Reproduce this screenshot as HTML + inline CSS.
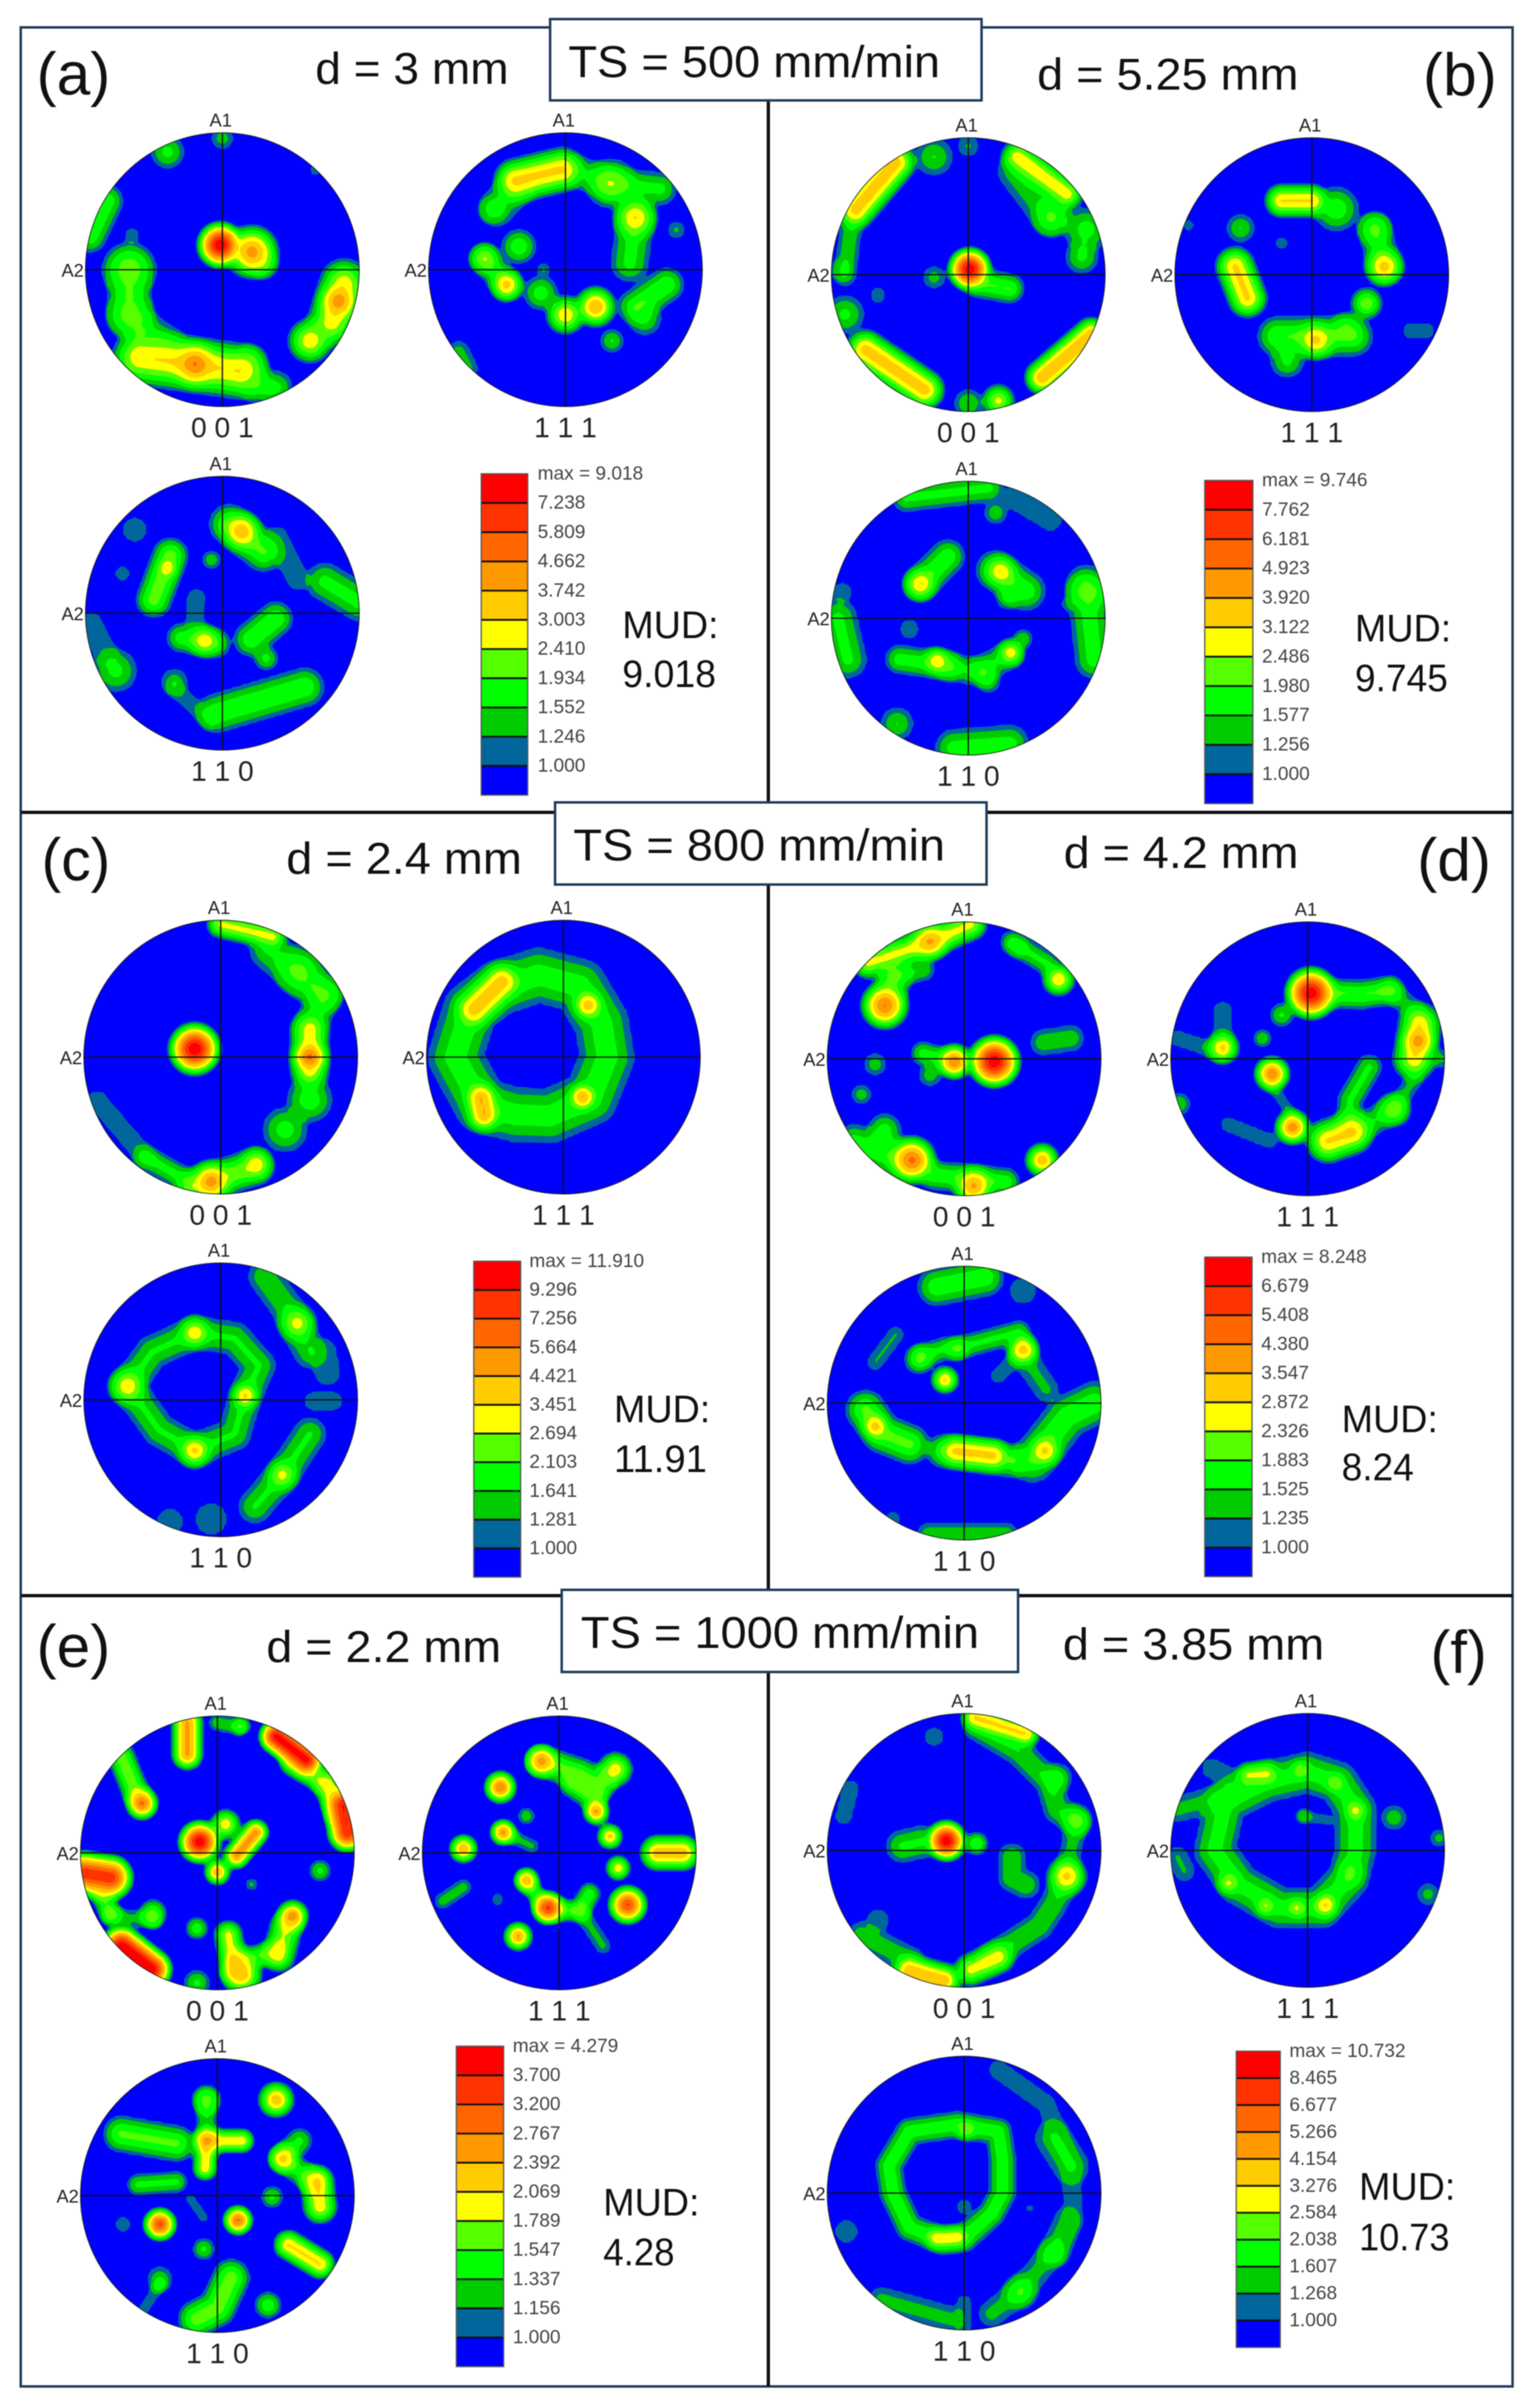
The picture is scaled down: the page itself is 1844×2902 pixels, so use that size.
<!DOCTYPE html>
<html lang="en">
<head>
<meta charset="utf-8">
<title>Pole figures at different traverse speeds</title>
<style>
html,body{margin:0;padding:0;background:#fff;width:1844px;height:2902px;overflow:hidden}
#chart{display:block;filter:blur(0.6px);font-family:"Liberation Sans",sans-serif}
.big{font-size:54px;fill:#111}
.par{font-size:72px;fill:#111}
.mud{font-size:46px;fill:#111}
.hkl{font-size:34px;fill:#222;text-anchor:middle;dominant-baseline:central}
.ax{font-size:22px;fill:#222;dominant-baseline:central}
.leg{font-size:23px;fill:#444;dominant-baseline:central}
</style>
</head>
<body>
<svg id="chart" xmlns="http://www.w3.org/2000/svg" width="1844" height="2902" viewBox="0 0 1844 2902">
<rect width="1844" height="2902" fill="#fff"/>
<g id="plots"></g>
<rect x="25" y="33" width="1798" height="2843" fill="none" stroke="#1f3d5c" stroke-width="3"/>
<line x1="926" y1="33" x2="926" y2="2876" stroke="#111" stroke-width="4"/>
<line x1="25" y1="979" x2="1823" y2="979" stroke="#111" stroke-width="4"/>
<line x1="25" y1="1923" x2="1823" y2="1923" stroke="#111" stroke-width="4"/>

<g><rect x="663" y="23" width="520" height="98" fill="#fff" stroke="#1f3d5c" stroke-width="3"/><text class="big" x="685" y="93" textLength="448" lengthAdjust="spacingAndGlyphs">TS = 500 mm/min</text></g>
<g><rect x="669" y="967" width="520" height="99" fill="#fff" stroke="#1f3d5c" stroke-width="3"/><text class="big" x="691" y="1037" textLength="448" lengthAdjust="spacingAndGlyphs">TS = 800 mm/min</text></g>
<g><rect x="677" y="1916" width="550" height="99" fill="#fff" stroke="#1f3d5c" stroke-width="3"/><text class="big" x="700" y="1986" textLength="480" lengthAdjust="spacingAndGlyphs">TS = 1000 mm/min</text></g>

<text class="par" x="44" y="114" textLength="89" lengthAdjust="spacingAndGlyphs">(a)</text>
<text class="par" x="1715" y="115" textLength="89" lengthAdjust="spacingAndGlyphs">(b)</text>
<text class="par" x="50" y="1061" textLength="83" lengthAdjust="spacingAndGlyphs">(c)</text>
<text class="par" x="1708" y="1061" textLength="89" lengthAdjust="spacingAndGlyphs">(d)</text>
<text class="par" x="44" y="2009" textLength="89" lengthAdjust="spacingAndGlyphs">(e)</text>
<text class="par" x="1724" y="2016" textLength="68" lengthAdjust="spacingAndGlyphs">(f)</text>

<text class="big" x="380" y="101" textLength="233" lengthAdjust="spacingAndGlyphs">d = 3 mm</text>
<text class="big" x="1250" y="108" textLength="315" lengthAdjust="spacingAndGlyphs">d = 5.25 mm</text>
<text class="big" x="345" y="1053" textLength="284" lengthAdjust="spacingAndGlyphs">d = 2.4 mm</text>
<text class="big" x="1282" y="1046" textLength="283" lengthAdjust="spacingAndGlyphs">d = 4.2 mm</text>
<text class="big" x="321" y="2003" textLength="283" lengthAdjust="spacingAndGlyphs">d = 2.2 mm</text>
<text class="big" x="1281" y="2000" textLength="315" lengthAdjust="spacingAndGlyphs">d = 3.85 mm</text>

<text class="mud" x="750" y="769" textLength="116" lengthAdjust="spacingAndGlyphs">MUD:</text>
<text class="mud" x="750" y="828" textLength="113" lengthAdjust="spacingAndGlyphs">9.018</text>
<text class="mud" x="1633" y="773" textLength="116" lengthAdjust="spacingAndGlyphs">MUD:</text>
<text class="mud" x="1633" y="833" textLength="112" lengthAdjust="spacingAndGlyphs">9.745</text>
<text class="mud" x="740" y="1714" textLength="116" lengthAdjust="spacingAndGlyphs">MUD:</text>
<text class="mud" x="740" y="1774" textLength="112" lengthAdjust="spacingAndGlyphs">11.91</text>
<text class="mud" x="1617" y="1726" textLength="116" lengthAdjust="spacingAndGlyphs">MUD:</text>
<text class="mud" x="1617" y="1784" textLength="87" lengthAdjust="spacingAndGlyphs">8.24</text>
<text class="mud" x="727" y="2670" textLength="116" lengthAdjust="spacingAndGlyphs">MUD:</text>
<text class="mud" x="727" y="2730" textLength="86" lengthAdjust="spacingAndGlyphs">4.28</text>
<text class="mud" x="1638" y="2651" textLength="116" lengthAdjust="spacingAndGlyphs">MUD:</text>
<text class="mud" x="1638" y="2712" textLength="109" lengthAdjust="spacingAndGlyphs">10.73</text>
</svg>

<script>
const aLevels = [1.000,1.246,1.552,1.934,2.410,3.003,3.742,4.662,5.809,7.238];
const bLevels = [1.000,1.256,1.577,1.980,2.486,3.122,3.920,4.923,6.181,7.762];
const cLevels = [1.000,1.281,1.641,2.103,2.694,3.451,4.421,5.664,7.256,9.296];
const dLevels = [1.000,1.235,1.525,1.883,2.326,2.872,3.547,4.380,5.408,6.679];
const eLevels = [1.000,1.156,1.337,1.547,1.789,2.069,2.392,2.767,3.200,3.700];
const fLevels = [1.000,1.268,1.607,2.038,2.584,3.276,4.154,5.266,6.677,8.465];
const aMax = "9.018", bMax = "9.746", cMax = "11.910", dMax = "8.248", eMax = "4.279", fMax = "10.732";

// Pole-figure intensity features: [spread, peak MUD, x,y, x,y, ...]
// x,y in percent of the pole-figure radius (x right, y down from the centre).
const a001 = [[7,9,-1.5,-18],[9,4.2,21.6,-13],[6,1.8,30,-4],[10,3,-60,64,12,74],[8,4.4,-20,69],[9,2.8,89,10,80,38],[7,4,85,23],[8,2.9,64,52],[7,1.7,39,86],[7,1.7,21,67,25,85],[11,1.9,-68,0],[10,1.8,-67,33],[9,1.7,-68,0,-68,33],[8,1.6,-55,45,-40,55],[7,1.7,-40,-86],[5,1.4,0,-96],[7,1.9,-85,-50,-97,-25],[4,1.1,-66,-25],[3,1.1,68,-73]];
const a111 = [[8,3.2,-36,-65,-3,-73],[6,1.4,-53,-44],[8,1.5,-36,-60,-50,-45],[10,1.9,33,-63],[8,2.9,51,-38],[7,1.7,33,-63,69,-59],[8,1.7,51,-38,47,-5],[7,1.5,8,-72,33,-63],[4,1.3,81,-29],[7,1.9,-34,-17],[6,2.2,-59,-8],[6,3.2,-43,11],[6,1.7,-59,-8,-43,11],[7,3,0,33],[7,3.8,22,27],[7,1.8,-18,17],[3,1.3,-16,0],[7,1.9,51,27,74,11],[7,1.6,58,36],[5,1.6,34,52],[5,1.4,-78,60,-72,72]];
const a110 = [[7,3.5,14,-60],[8,2,5,-65,30,-45],[6.5,1.15,-64,-61],[4,1.1,-73,-29],[7,2.2,-38,-42,-50,-10],[4,2.5,-40,-33],[4,1.5,-8,-39],[6,1.15,40,-55,55,-25],[8,1.7,75,-23,100,-8],[5,1.15,-19,-11,-20,8],[6,2.7,-13,20],[6,1.8,-30,18,-5,22],[7,1.9,39,4,21,19],[5,1.7,32,33],[9,1.7,-78,42],[6,1.2,-96,8,-85,30],[6,1.4,-35,50],[8,1.9,-4,73,60,54],[4,1.2,-35,55,-10,78]];
const b001 = [[6.5,9.7,1,-4],[6,2,8,6,30,10],[5,1.4,-25,2],[7,3.6,-82,-48,-53,-82],[8,1.6,-25,-86],[5,1.3,0,-94],[6,2.9,36,-86,72,-59],[8,1.8,61,-42],[9,1.8,86,-33],[7,1.7,83,-13],[8,1.5,35,-75,60,-42],[5,1.5,-85,-40,-90,0],[5,1.2,-93,-4],[7,3.6,-75,55,-32,84],[8,1.7,-90,29],[6,3.9,54,75,90,44],[6,2.7,22,92],[6,1.6,0,94],[4,1.15,-66,15]];
const b111 = [[6,3.2,-22,-54,0,-54],[9,1.9,18,-48],[7,1.7,46,-33],[7,3.4,53,-6],[7,1.7,46,-33,53,-6],[6,2.4,40,21],[7,3.2,3,48],[8,2,-25,45,30,45],[7,1.7,-18,63],[6,1.7,25,38],[7,3.3,-56,-6,-47,17],[6,1.6,-52,-34],[3,1.2,-22,-23],[4,1.15,72,41,84,41],[3,1.1,-90,-36]];
const b110 = [[7,1.9,-35,-25,-15,-45],[6,3,-35,-25],[6,2.9,24,-34],[8,1.9,20,-35,42,-20],[5,1.6,29,-15],[5,2.9,-23,31],[6,1.8,-50,30,-15,35],[6,1.6,-15,35,10,40],[5,1.5,15,46],[5,2.8,31,25],[6,1.6,10,37,30,27],[4,1.6,40,15],[5,1.15,-43,8],[6,1.7,-45,-88,15,-95],[5,1.5,20,-77],[6,1.15,33,-88,60,-72],[8,1.7,-95,0,-88,30],[5,1.15,-92,-19],[7,1.7,83,-19,92,-19],[8,1.8,86,-25,92,30],[3,1.1,72,-10],[7,1.6,-52,77],[8,1.8,-10,95,30,92]];
const c001 = [[7.6,11.9,-19,-6],[7,3,65,-20,65,10],[6,6,65,0],[10,2,58,-63],[5,2.9,0,-97,38,-88],[8,1.4,76,-47],[8,1.7,35,-78,75,-45],[7,1.6,75,-45,65,-20],[9,2,65,31],[9,1.9,47,53],[6,2.9,26,78],[7,5,-7,91],[7,2.5,-20,95,25,80],[5,1.8,-55,73,-25,90],[5,1.2,-90,32,-55,73]];
const c111 = [[7,4,-65,-35,-45,-55],[5.5,4,18,-38],[6,4.4,-60,30,-58,42],[5,4.5,14,29],[11,1.9,-48,-50,-18,-60,12,-52,28,-25,32,0,20,30,-10,43,-35,42,-60,35,-79,0,-68,-35,-48,-50]];
const c110 = [[6,3.2,-19,-49],[7,3.2,-68,-10],[5,3.6,18,-3],[6,3.6,-19,37],[7,1.7,-19,-49,10,-45,28,-25,18,-3,10,25,-19,37,-45,22,-68,-10,-50,-35,-19,-49],[7,2.9,56,-56],[7,1.6,32,-90,48,-68,65,-35],[7,1.15,75,-35,78,-20],[5,1.15,68,1,82,1],[6,2.8,45,55],[7,1.7,65,25,45,55,25,78],[8,1.2,-7,87],[7,1.15,-37,89]];
const d001 = [[8,8.2,22,2],[6,4.4,-7,2],[5,1.7,-30,-4,-10,2],[5,1.4,-25,12],[8,4.4,-58,-39],[7,1.7,-58,-39,-50,-60],[7,3.4,-25,-86],[6,2.5,-70,-70,-25,-85,5,-98],[5,1.5,-55,-60,-30,-65],[6,2.9,69,-58],[5,1.6,35,-85,60,-70],[5,1.2,39,-82],[6,1.45,58,-12,78,-15],[5,1.4,-65,4],[4.5,1.4,-75,26],[8,4.7,-38,74],[7,1.7,-58,52],[8,1.8,-80,62,-50,72],[7,3.7,7,93],[6,1.8,-22,85,30,90],[6,3.4,57,74]];
const d111 = [[8,8,2.5,-48],[6,1.9,5,-48,40,-47,60,-50],[5,1.6,-19,-32],[8,2.8,82,-25,78,0],[6,3.6,81,-13],[4,1.3,98,0],[5,1.3,60,-50,78,-35],[6,4.4,-26,11],[4,1.5,-33,-15],[6,3,-62,-8],[4,1.2,-95,-15,-65,-5],[5,1.15,-62,-35,-62,-15],[8,3,15,60,32,54],[6,4.2,-11,50],[7,1.8,63,37],[5.5,1.6,45,6,31,30,30,50],[4,1.15,-58,48,-28,60],[2.5,1.2,-26,20,-12,40],[6,1.5,40,50,63,37],[4,1.3,63,37,78,15],[5,1.5,-94,33]];
const d110 = [[8,1.8,-20,-85,15,-92],[7,1.15,43,-82],[4,1.25,-65,-30,-50,-50],[6,1.8,-33,-32],[5,3,-14,-17],[6,3,43,-39],[5,1.6,-5,-40,40,-52,43,-39],[5,1.6,-30,-35,-14,-40,-5,-40],[6,1.3,43,-35,60,-10],[4,1.15,25,-20,35,-30],[8,2,-72,5,-60,22,-40,30],[5,3,-65,17],[6,2.9,-6,35,21,38],[7,1.8,-15,35,35,42],[6,2.9,59,35],[9,1.8,50,42,75,10,95,0],[6,1.5,-25,97,30,97],[4,1.15,-52,85]];
const e001 = [[7.3,4.2,-13,-8],[6,2,6,-21],[5,2.6,14,2,28,-15],[5,2.4,0,14],[3,1.2,25,23],[6,2.5,-22,-95,-22,-72],[4,1.3,18,-93],[4,1.3,0,-95,15,-92],[6,4,43,-85,65,-68],[5.5,1.6,55,-65,80,-50],[7,3.7,92,-35,95,-15],[6,1.6,80,-50,88,-30],[6,2.9,-55,-36],[6,1.7,-70,-70,-60,-45],[8,3.6,-97,15,-78,18],[5,1.5,-85,30,-78,45],[5,1.4,75,13],[6,1.6,-47,44],[4,1.2,-78,45,-47,50],[7,4.2,-70,68,-48,85],[5,1.5,-15,55],[6,2.6,55,46],[7,1.8,50,55,45,75],[8,2.2,18,89],[6,1.9,8,60,12,85],[5,1.5,15,78,42,72],[6,1.4,-15,95]];
const e111 = [[6,2.4,-13,-67],[7,1.6,-13,-67,15,-58,30,-50],[7,2,41,-61],[6,1.5,10,-50,25,-40],[6,2.8,-43,-48],[5,2.5,27,-30],[5,2.2,37,-12],[5,2.5,-41,-15],[4,1.3,-24,-27],[3.5,1.2,-41,-15,-20,-5],[5.5,2.4,-70,-3],[4,1.25,-85,35,-70,25],[7,2.3,72,0,90,0],[5,2,43,11],[7,3.3,50,38],[5,2.2,-24,20],[6,3.3,-8,40],[4,1.4,-24,20,-12,38],[5,1.5,-8,42,15,42,22,30],[4,1.2,15,42,32,68],[5.5,2.5,-30,61],[3,1.15,-45,34]];
const e110 = [[7,2.3,43,-70],[8,1.6,-70,-45,-30,-38],[7,1.3,-8,-70],[5,1.3,-8,-70,-8,-45],[5,2,-8,-40,18,-40],[5,2,-8,-40,-9,-20],[6,2,48,-27],[6,1.4,60,-40,48,-27,70,-10],[7,2,73,-10,75,8],[5,1.4,40,1],[5,1.4,-58,-8,-30,-10],[6,3.3,-42,21],[5.5,2.9,15,18],[4,1.15,-69,21],[2.5,1.1,-20,2,-10,16],[5,1.4,-10,39],[6,2.1,52,36,75,50],[6,1.3,-42,61],[3,1.1,-42,65,-55,85],[8,1.7,10,60,0,82,-15,90],[6,1.5,37,80]];
const f001 = [[6,10.7,-13,-7],[4.5,2.1,9,-5],[7,1.7,-45,-3,-32,-6],[6,1.6,35,5,35,20,45,25],[7,3.4,75,19],[6,1.6,75,19,65,40,55,55,35,68,20,78],[6,2.9,5,87,25,78],[6,4,-40,88,-15,95],[6,1.5,-75,62,-40,80],[6,1.15,-63,51],[5,3.4,8,-97,45,-85],[6,1.6,10,-90,40,-72,62,-50,68,-30,82,-20],[5,1.4,82,-20,78,0,75,15],[6,1.9,82,-23],[6,1.8,68,-53],[4.5,1.15,-83,-45,-88,-25],[5,1.15,-22,-83]];
const f111 = [[8.5,1.8,-60,-35,-30,-50,0,-57,22,-50,35,-30,35,0,30,20,10,42,-20,42,-50,25,-68,0,-60,-35],[5,2.6,-43,-55,-30,-56],[4,2.2,-5,-59],[4,2.2,20,-49],[4.5,2.6,35,-29],[4.5,2.6,-58,24],[4,2.5,-31,41],[4,2.5,-8,42],[5,3.3,13,40],[6,1.7,31,17],[6,1.4,-95,-30,-60,-40],[5,1.3,-95,5,-90,15],[5,1.2,-70,-60,-50,-50],[3.5,1.3,-3,-25],[2.5,1.2,-3,-25,15,-22],[5.5,1.5,63,-24],[4,1.4,96,-9],[5,1.4,88,32]];
const f110 = [[5.5,1.9,-40,-45,-5,-50,25,-45,28,-25,28,0,20,15,0,33,-15,35,-40,25,-52,0,-55,-20,-40,-45],[4,2.3,1,-46],[4.5,2.9,-20,33,-5,32],[3.5,1.3,0,10],[2,1.1,48,11],[8,1.5,65,-40,78,-20],[5,1.15,25,-90,60,-65,78,-20,80,20,70,45],[7,1.9,41,72],[6,1.6,64,44],[6,1.4,20,88,41,72,64,44,75,20],[6,1.4,-60,78,-10,92],[6,1.15,-86,28],[4,1.15,0,80,0,100]];

// Layout (not data): where each panel and its figures sit on the page.
const R = 165;
const bandColors = ["#00669c","#00cc00","#00ff00","#55ff00","#ffff00","#ffcc00","#ff9900","#ff6600","#ff3300","#ff0000"];
const panels = [
  {id:"a",levels:aLevels,max:aMax,figs:[[268,325,"0 0 1",a001],[681.5,325,"1 1 1",a111],[268,739,"1 1 0",a110]],leg:[580,571,56,35.2,648]},
  {id:"b",levels:bLevels,max:bMax,figs:[[1167,331,"0 0 1",b001],[1581,331,"1 1 1",b111],[1167,745,"1 1 0",b110]],leg:[1452,579,58,35.4,1521]},
  {id:"c",levels:cLevels,max:cMax,figs:[[266,1274,"0 0 1",c001],[679,1274,"1 1 1",c111],[266,1687,"1 1 0",c110]],leg:[571,1520,56.5,34.6,638]},
  {id:"d",levels:dLevels,max:dMax,figs:[[1162,1276,"0 0 1",d001],[1576,1276,"1 1 1",d111],[1162,1691,"1 1 0",d110]],leg:[1452,1515,57,35,1520]},
  {id:"e",levels:eLevels,max:eMax,figs:[[262,2233,"0 0 1",e001],[674,2233,"1 1 1",e111],[262,2646,"1 1 0",e110]],leg:[550,2466,57,35.1,618]},
  {id:"f",levels:fLevels,max:fMax,figs:[[1162,2230,"0 0 1",f001],[1576,2230,"1 1 1",f111],[1162,2643,"1 1 0",f110]],leg:[1490,2472,53,32.45,1554]}
];

const NS = "http://www.w3.org/2000/svg";
const root = document.getElementById("plots");
function make(tag, attrs, parent){
  const n = document.createElementNS(NS, tag);
  for (const k in attrs) n.setAttribute(k, attrs[k]);
  parent.appendChild(n);
  return n;
}
function xScale(cx, u){ return cx + u / 100 * R; }
function yScale(cy, u){ return cy + u / 100 * R; }

// Distance at which a feature falls to the 1.000 contour.
function reach(s, P){
  return s * (1 + 1.05 * Math.sqrt(Math.log(Math.max(P, 1.01))));
}
function peakValue(p, x, y){
  const P = p[1], r0 = reach(p[0], P);
  let best = Infinity;
  if (p.length === 4){
    best = (x-p[2])*(x-p[2]) + (y-p[3])*(y-p[3]);
  } else {
    for (let i = 2; i + 3 < p.length; i += 2){
      const ax=p[i], ay=p[i+1], bx=p[i+2], by=p[i+3];
      const dx=bx-ax, dy=by-ay, l=dx*dx+dy*dy;
      let t = l>0 ? ((x-ax)*dx+(y-ay)*dy)/l : 0;
      t = Math.max(0, Math.min(1, t));
      const ex=ax+t*dx-x, ey=ay+t*dy-y, d=ex*ex+ey*ey;
      if (d<best) best=d;
    }
  }
  const d = Math.sqrt(best);
  if (d < r0) return Math.exp(Math.log(P) * (1 - Math.pow(d / r0, 1.5)));
  return Math.exp(-(d - r0) / 4);
}
function field(peaks, x, y){
  let sum = 0;
  for (const p of peaks){
    const v = peakValue(p, x, y);
    sum += v*v*v;
  }
  return Math.cbrt(sum);
}
const STEP = 2, MIN = -104, N = 105;
function grid(peaks){
  const g = new Float32Array(N*N);
  for (let j=0;j<N;j++) for (let i=0;i<N;i++){
    g[j*N+i] = field(peaks, MIN+i*STEP, MIN+j*STEP);
  }
  return g;
}
function bandPath(g, t, cx, cy){
  const parts = [];
  for (let j=0;j<N-1;j++) for (let i=0;i<N-1;i++){
    const v = [g[j*N+i], g[j*N+i+1], g[(j+1)*N+i+1], g[(j+1)*N+i]];
    if (v[0]<t && v[1]<t && v[2]<t && v[3]<t) continue;
    const X=[i,i+1,i+1,i], Y=[j,j,j+1,j+1];
    const pts=[];
    for (let k=0;k<4;k++){
      const m=(k+1)%4;
      if (v[k]>=t) pts.push([X[k],Y[k]]);
      if ((v[k]>=t)!==(v[m]>=t)){
        const f=(t-v[k])/(v[m]-v[k]);
        pts.push([X[k]+f*(X[m]-X[k]),Y[k]+f*(Y[m]-Y[k])]);
      }
    }
    parts.push("M"+pts.map(q=>xScale(cx,MIN+q[0]*STEP).toFixed(1)+" "+yScale(cy,MIN+q[1]*STEP).toFixed(1)).join("L")+"Z");
  }
  return parts.join("");
}

panels.forEach(function(panel){
  const pg = make("g", {}, root);
  
  
  panel.figs.forEach(function(fig){
    const cx=fig[0], cy=fig[1], hkl=fig[2], peaks=fig[3];
    const slug = panel.id + '-' + hkl.replace(/ /g,'');
    const g = make("g", {}, pg);
    
    
    const clip = make("clipPath", {id:"clip-"+slug}, g);
    make("circle", {cx:cx, cy:cy, r:R}, clip);
    const disc = make("circle", {cx:cx, cy:cy, r:R, fill:"#0000ff"}, g);
    
    
    const bands = make("g", {"clip-path":"url(#clip-"+slug+")"}, g);
    
    
    const vals = grid(peaks);
    panel.levels.forEach(function(level, i){
      const d = bandPath(vals, level, cx, cy);
      if (!d) return;
      const path = make("path", {d:d, fill:bandColors[i], stroke:bandColors[i], "stroke-width":0.6}, bands);
      
      
    });
    const ring = make("circle", {cx:cx, cy:cy, r:R, fill:"none", stroke:"#222", "stroke-width":1}, g);
    
    
    const h = make("line", {x1:cx-R, y1:cy, x2:cx+R, y2:cy, stroke:"#111", "stroke-width":1.6}, g);
    
    
    const v = make("line", {x1:cx, y1:cy-R, x2:cx, y2:cy+R, stroke:"#111", "stroke-width":1.6}, g);
    
    
    const a1 = make("text", {x:cx-2, y:cy-180, class:"ax", "text-anchor":"middle"}, g);
    
    
    a1.textContent = "A1";
    const a2 = make("text", {x:cx-167, y:cy+1, class:"ax", "text-anchor":"end"}, g);
    
    
    a2.textContent = "A2";
    const t = make("text", {x:cx, y:cy+191, class:"hkl"}, g);
    
    
    t.textContent = hkl;
  });
  // Legend: top swatch is the max band, bottom swatch is the below-1.000 blue.
  const L = panel.leg, lx=L[0], ly=L[1], lw=L[2], lh=L[3], tx=L[4];
  const lg = make("g", {}, pg);
  
  
  const colors = ["#0000ff"].concat(bandColors).reverse();
  const levelsDown = panel.levels.slice().reverse();
  colors.forEach(function(c, i){
    const sw = make("rect", {x:lx, y:ly+i*lh, width:lw, height:lh, fill:c}, lg);
    
    
    if (i>0){
      const sep = make("line", {x1:lx, y1:ly+i*lh, x2:lx+lw, y2:ly+i*lh, stroke:"#111", "stroke-width":2.2}, lg);
      
      
    }
  });
  const box = make("rect", {x:lx, y:ly, width:lw, height:lh*colors.length, fill:"none", stroke:"#555", "stroke-width":1.5}, lg);
  
  
  const maxLabel = make("text", {x:tx, y:ly-1, class:"leg"}, lg);
  
  
  maxLabel.textContent = "max = " + panel.max;
  levelsDown.forEach(function(level, i){
    const lab = make("text", {x:tx, y:ly+(i+1)*lh-1, class:"leg"}, lg);
    
    
    lab.textContent = level.toFixed(3);
  });
});
</script>
</body>
</html>
